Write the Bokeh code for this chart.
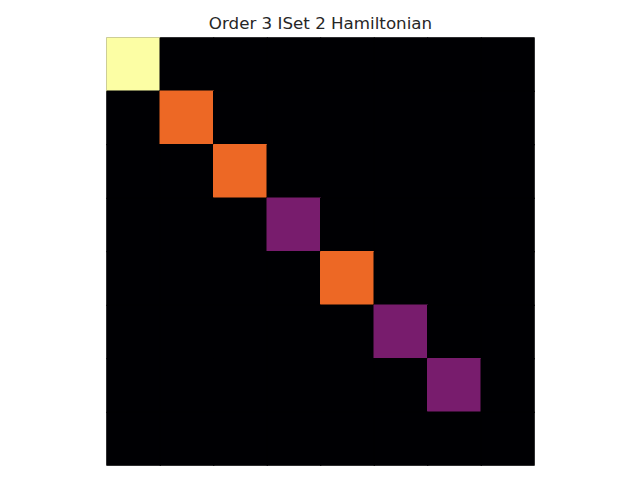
from bokeh.plotting import figure
from bokeh.models import ColumnDataSource, LinearColorMapper, Range1d
from bokeh.palettes import Inferno256
from bokeh.transform import transform
from bokeh.embed import file_html
from bokeh.resources import INLINE

n_states = 8
diagonal = [3, 2, 2, 1, 2, 1, 1, 0]
title_text = "Order 3 ISet 2 Hamiltonian"

rows, cols, vals = [], [], []
for i in range(n_states):
    for j in range(n_states):
        rows.append(i + 0.5)
        cols.append(j + 0.5)
        vals.append(diagonal[i] if i == j else 0)

src = ColumnDataSource(dict(x=cols, y=rows, v=vals))
mapper = LinearColorMapper(palette=Inferno256, low=0, high=3)

p = figure(width=640, height=480, output_backend="svg", toolbar_location=None,
           x_range=Range1d(0, n_states), y_range=Range1d(n_states, 0),
           min_border_left=106, min_border_right=106, min_border_top=37, min_border_bottom=15)
p.rect(x="x", y="y", width=1, height=1, source=src, dilate=True,
       fill_color=transform("v", mapper), line_color=transform("v", mapper), line_width=1)
p.xaxis.visible = False
p.yaxis.visible = False
p.xgrid.grid_line_color = None
p.ygrid.grid_line_color = None
p.outline_line_color = None
p.background_fill_color = Inferno256[0]
p.border_fill_color = "white"
p.title.text = title_text
p.title.align = "center"
p.title.text_font = "DejaVu Sans"
p.title.text_font_size = "16.7px"
p.title.text_font_style = "normal"
p.title.text_color = "#262626"
p.title.standoff = 10

open("out.html", "w").write(file_html(p, INLINE))
